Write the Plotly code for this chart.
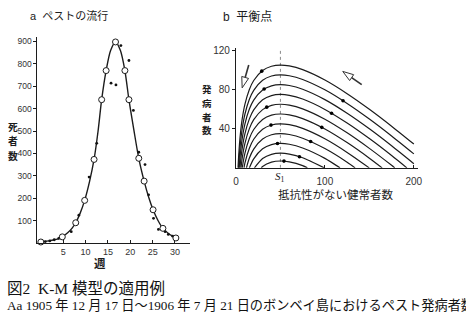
import plotly.graph_objects as go
import math

W, H = 466, 312

# ---------------- Panel a : plague deaths per week ----------------
curve_weeks = [0, 1, 2, 3, 4, 4.8, 6, 7, 7.8, 8.8, 9.8, 10.9, 11.9, 12.8, 13.6, 14.6,
               15.6, 16.7, 17.8, 18.8, 19.7, 20.8, 21.9, 23.1, 24.1, 25.1, 26.2, 27.3, 28.7, 30.2]
curve_deaths = [4, 7, 10, 14, 19, 27, 45, 66, 90, 133, 190, 275, 373, 500, 640, 770,
                860, 898, 860, 770, 640, 505, 378, 276, 205, 148, 100, 65, 40, 22]
circle_weeks = [0, 4.8, 7.8, 9.8, 11.9, 13.6, 14.6, 16.7, 18.8, 19.7, 21.9, 23.1, 25.1, 27.3, 30.2]
circle_deaths = [4, 27, 90, 190, 373, 640, 770, 898, 770, 640, 378, 276, 148, 65, 22]
obs_weeks = [1, 2, 3, 4, 6.8, 8.5, 10.8, 12.5, 15.7, 16.8, 17.9, 18.6, 19.7, 20.7,
             21.9, 23.3, 24.1, 25.2, 26.3, 27.8, 28.5, 29.5]
obs_deaths = [6, 9, 14, 20, 50, 124, 294, 445, 714, 706, 882, 940, 815, 592,
              405, 350, 215, 110, 60, 50, 38, 30]
a_xticks = [5, 10, 15, 20, 25, 30]
a_yticks = [100, 200, 300, 400, 500, 600, 700, 800, 900]

# ---------------- Panel b : phase plane trajectories ----------------
phase_S = [2.5, 3, 4, 5, 7, 10, 15, 20, 30, 40, 50, 60, 75, 100, 125, 150, 175, 200]
N = None
phase_I = [
    [2.7, 11.3, 24.7, 34.9, 49.7, 64.5, 79.8, 89.2, 99.5, 103.8, 105, 104.1, 100.3, 89.7, 75.8, 59.9, 42.6, 24.3],
    [N, 1.3, 14.7, 24.9, 39.7, 54.5, 69.8, 79.2, 89.5, 93.8, 95, 94.1, 90.3, 79.7, 65.8, 49.9, 32.6, 14.3],
    [N, N, 4.7, 14.9, 29.7, 44.5, 59.8, 69.2, 79.5, 83.8, 85, 84.1, 80.3, 69.7, 55.8, 39.9, 22.6, 4.3],
    [N, N, N, 4.9, 19.7, 34.5, 49.8, 59.2, 69.5, 73.8, 75, 74.1, 70.3, 59.7, 45.8, 29.9, 12.6, N],
    [N, N, N, N, 9.7, 24.5, 39.8, 49.2, 59.5, 63.8, 65, 64.1, 60.3, 49.7, 35.8, 19.9, 2.6, N],
    [N, N, N, N, N, 14.5, 29.8, 39.2, 49.5, 53.8, 55, 54.1, 50.3, 39.7, 25.8, 9.9, N, N],
    [N, N, N, N, N, 4.5, 19.8, 29.2, 39.5, 43.8, 45, 44.1, 40.3, 29.7, 15.8, N, N, N],
    [N, N, N, N, N, N, 9.8, 19.2, 29.5, 33.8, 35, 34.1, 30.3, 19.7, 5.8, N, N, N],
    [N, N, N, N, N, N, N, 9.2, 19.5, 23.8, 25, 24.1, 20.3, 9.7, N, N, N, N],
    [N, N, N, N, N, N, N, N, 9.5, 13.8, 15, 14.1, 10.3, N, N, N, N, N],
    [N, N, N, N, N, N, N, N, 1.5, 5.8, 7, 6.1, 2.3, N, N, N, N, N],
]
phase_left_zero = [2.37, 2.92, 3.65, 4.52, 5.69, 7.05, 9.09, 11.8, 15.1, 20.8, 28.5]
phase_right_zero = [N, N, N, 192.2, 178.6, 164.4, 149.9, 134, 117, 99.2, 80.3]
marker_S = [29, 31.7, 34.6, 39.4, 46.7, 54, 71.4, 84, 96.5, 107.5, 120.4]
marker_I = [98.8, 80.5, 62, 43.7, 24.9, 6.9, 11.4, 26.9, 41.4, 55.8, 68.5]
S1_value = 50
b_xticks = [0, 100, 200]
b_xticklabels = ["0", "100", "200"]
b_yticks = [40, 80, 120]
# direction arrows: (tail S, tail I, head S, head I)
arrow_specs = [(14.4, 105, 7.0, 81.7), (141.4, 85, 120.1, 98.5)]

# ---------------- geometry ----------------
ax_a = dict(x0=35, x1=190, ytop=33, ybot=242)
ax_b = dict(x0=237, x1=422, ytop=45, ybot=166)
a_xrange = [-0.77, 33.3]
a_yrange = [0, 922]
b_xrange = [0, 204.4]
b_yrange = [0, 122]

INK = "#1c1c1c"
SANS = "Liberation Sans, Noto Sans CJK JP"
CJK = "Noto Sans CJK JP"
SERIF = "Liberation Serif, Noto Sans CJK JP"

fig = go.Figure()

fig.add_trace(go.Scatter(x=curve_weeks, y=curve_deaths, mode="lines",
                         line=dict(color=INK, width=1.4, shape="spline", smoothing=0.8),
                         xaxis="x", yaxis="y", cliponaxis=False, hoverinfo="skip"))
fig.add_trace(go.Scatter(x=obs_weeks, y=obs_deaths, mode="markers",
                         marker=dict(size=2.8, color="#111"),
                         xaxis="x", yaxis="y", cliponaxis=False, hoverinfo="skip"))
fig.add_trace(go.Scatter(x=circle_weeks, y=circle_deaths, mode="markers",
                         marker=dict(size=6, color="white", line=dict(color=INK, width=1)),
                         xaxis="x", yaxis="y", cliponaxis=False, hoverinfo="skip"))

for k, row in enumerate(phase_I):
    xs, ys = [phase_left_zero[k]], [0]
    for s, v in zip(phase_S, row):
        if v is not None:
            xs.append(s)
            ys.append(v)
    if phase_right_zero[k] is not None:
        xs.append(phase_right_zero[k])
        ys.append(0)
    fig.add_trace(go.Scatter(x=xs, y=ys, mode="lines",
                             line=dict(color=INK, width=1.2, shape="spline", smoothing=0.7),
                             xaxis="x2", yaxis="y2", cliponaxis=False, hoverinfo="skip"))

fig.add_trace(go.Scatter(x=marker_S, y=marker_I, mode="markers",
                         marker=dict(size=3.6, color="#000"),
                         xaxis="x2", yaxis="y2", hoverinfo="skip"))

# S1 dashed line
fig.add_shape(type="line", xref="x2", yref="y2", x0=S1_value, x1=S1_value,
              y0=0, y1=b_yrange[1] - 2, line=dict(color="#8a8a8a", width=1, dash="dot"),
              layer="below")

# arrows (open heads)
kx = (ax_b["x1"] - ax_b["x0"]) / (b_xrange[1] - b_xrange[0])
ky = (ax_b["ybot"] - ax_b["ytop"]) / (b_yrange[1] - b_yrange[0])
for ts, ti, hs, hi in arrow_specs:
    tx, ty, hx, hy = ts * kx, ti * ky, hs * kx, hi * ky
    L = math.hypot(hx - tx, hy - ty)
    dx, dy = (hx - tx) / L, (hy - ty) / L
    nx, ny = -dy, dx
    hl, hw = 11, 3.6
    bx, by = hx - dx * hl, hy - dy * hl
    p1 = (bx + nx * hw, by + ny * hw)
    p2 = (bx - nx * hw, by - ny * hw)
    fig.add_shape(type="line", xref="x2", yref="y2", x0=ts, y0=ti, x1=bx / kx, y1=by / ky,
                  line=dict(color="#333", width=1.6))
    path = "M {:.3f},{:.3f} L {:.3f},{:.3f} L {:.3f},{:.3f} Z".format(
        hs, hi, p1[0] / kx, p1[1] / ky, p2[0] / kx, p2[1] / ky)
    fig.add_shape(type="path", xref="x2", yref="y2", path=path,
                  fillcolor="white", line=dict(color="#333", width=1))


def ann(text, px, py, size, xanchor="center", family=CJK, color=INK, **kw):
    fig.add_annotation(text=text, x=px / W, y=1 - py / H, xref="paper", yref="paper",
                       xanchor=xanchor, yanchor="middle", showarrow=False, borderpad=0,
                       font=dict(size=size, family=family, color=color), **kw)


ann("a  ペストの流行", 26, 12, 11, xanchor="left", family=SANS)
ann("b  平衡点", 223, 13, 12, xanchor="left", family=SANS)
for ch, py in zip("死者数", [124.5, 139, 153.5]):
    ann("<b>" + ch + "</b>", 10, py, 9.8)
for ch, py in zip("発病者数", [86, 100, 114, 128]):
    ann("<b>" + ch + "</b>", 208, py, 9.5)
ann("<b>週</b>", 99, 262, 11.5)
ann("抵抗性がない健常者数", 338, 192, 11.5)
fig.add_annotation(text="<i>S</i><sub>1</sub>", x=S1_value, xref="x2", y=1 - 175 / H, yref="paper",
                   showarrow=False, yanchor="middle",
                   font=dict(size=11, family="Liberation Serif", color=INK))
ann("図2  K-M 模型の適用例", 3, 288, 15.5, xanchor="left", family=SERIF, color="#111")
ann("Aa 1905 年 12 月 17 日～1906 年 7 月 21 日のボンベイ島におけるペスト発病者数",
    3, 305, 13.2, xanchor="left", family=SERIF, color="#111")

axis_common = dict(showline=True, linecolor=INK, linewidth=1, showgrid=False,
                   zeroline=False, ticklen=3, tickcolor=INK, fixedrange=True)
fig.update_layout(
    width=W, height=H, margin=dict(l=0, r=0, t=0, b=0),
    paper_bgcolor="white", plot_bgcolor="white", showlegend=False,
    xaxis=dict(domain=[ax_a["x0"] / W, ax_a["x1"] / W], range=a_xrange, anchor="y",
               ticks="inside", tickvals=a_xticks,
               tickfont=dict(size=9, family=SANS, color="#333"), **axis_common),
    yaxis=dict(domain=[1 - ax_a["ybot"] / H, 1 - ax_a["ytop"] / H], range=a_yrange, anchor="x",
               ticks="outside", tickvals=a_yticks,
               tickfont=dict(size=8.5, family=SANS, color="#333"), **axis_common),
    xaxis2=dict(domain=[ax_b["x0"] / W, ax_b["x1"] / W], range=b_xrange, anchor="y2",
                ticks="inside", tickvals=b_xticks, ticktext=b_xticklabels,
                ticklabelstandoff=4,
                tickfont=dict(size=10, family=SANS, color="#333"), **axis_common),
    yaxis2=dict(domain=[1 - ax_b["ybot"] / H, 1 - ax_b["ytop"] / H], range=b_yrange, anchor="x2",
                ticks="outside", tickvals=b_yticks,
                tickfont=dict(size=10, family=SANS, color="#333"), **axis_common),
)

fig.write_html("out.html")
